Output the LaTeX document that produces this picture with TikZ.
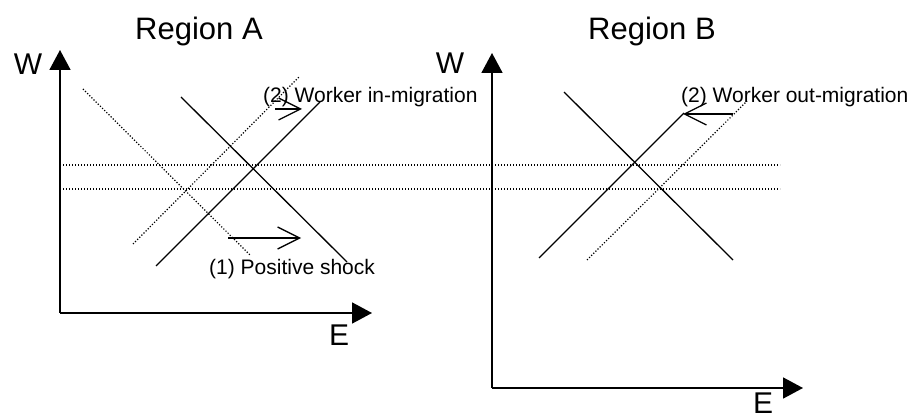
\documentclass[tikz,border=0pt]{standalone}
\usepackage{fontspec}
\setmainfont{Liberation Sans}
\usepackage{tikz}
\usetikzlibrary{arrows.meta,positioning,calc}

\begin{document}
\begin{tikzpicture}[x=1pt, y=-1pt]
  % Styles for axes, curves and shift arrows
  \tikzstyle{axisline} = [line width=1.7pt, -{Triangle[length=20pt, width=21pt]}]
  \tikzstyle{curve} = [line width=1.3pt]
  \tikzstyle{oldcurve} = [line width=1.2pt, dash pattern=on 1.2pt off 1.8pt]
  \tikzstyle{shiftarrow} = [line width=1.3pt, -{Straight Barb[length=22pt, width=22pt]}]
  \tikzstyle{title} = [font=\fontsize{31}{36}\selectfont, inner sep=0pt, anchor=base]
  \tikzstyle{axlabel} = [font=\fontsize{30}{34}\selectfont, inner sep=0pt, anchor=base]
  \tikzstyle{note} = [font=\fontsize{21}{25}\selectfont, inner sep=0pt, anchor=base west]

  \useasboundingbox (0,0) rectangle (912,419);

  % Region A
  \node[title] (titleA) at (199,40) {Region A};
  \coordinate (oA) at (60,313);
  \coordinate (yA) at (60,50);
  \coordinate (xA) at (372,313);
  \draw[axisline] (oA) -- (yA);
  \draw[axisline] (oA) -- (xA);
  \node[axlabel] (wA) at (28,75) {W};
  \node[axlabel] (eA) at (339,345) {E};

  % Wage levels (shared by both regions)
  \coordinate (hiL) at (60,165);
  \coordinate (hiR) at (780,165);
  \coordinate (loL) at (60,189);
  \coordinate (loR) at (780,189);
  \draw[oldcurve] (hiL) -- (hiR);
  \draw[oldcurve] (loL) -- (loR);

  % Region A: old curves dotted, new curves solid
  \draw[oldcurve] (83,89) -- (250,255);
  \draw[oldcurve] (133,244) -- (299,77);
  \draw[curve] (181,97) -- (347,262);
  \draw[curve] (156,266) -- (320,102);

  \coordinate (shockS) at (228,238);
  \coordinate (shockE) at (301,238);
  \draw[shiftarrow] (shockS) -- (shockE);
  \node[note] (shockA) at (209,275) {(1) Positive shock};

  \coordinate (inS) at (275,109);
  \coordinate (inE) at (302,109);
  \draw[shiftarrow] (inS) -- (inE);
  \node[note] (inA) at (263,103) {(2) Worker in-migration};

  % Region B
  \node[title] (titleB) at (652,40) {Region B};
  \coordinate (oB) at (492,388);
  \coordinate (yB) at (492,53);
  \coordinate (xB) at (803,388);
  \draw[axisline] (oB) -- (yB);
  \draw[axisline] (oB) -- (xB);
  \node[axlabel] (wB) at (450,74) {W};
  \node[axlabel] (eB) at (763,413) {E};

  \draw[curve] (564,92) -- (733,260);
  \draw[oldcurve] (587,260) -- (747,101);
  \draw[curve] (539,258) -- (684,113);

  \coordinate (outS) at (733,114);
  \coordinate (outE) at (683,114);
  \draw[shiftarrow] (outS) -- (outE);
  \node[note] (outB) at (681,103) {(2) Worker out-migration};

\end{tikzpicture}
\end{document}
